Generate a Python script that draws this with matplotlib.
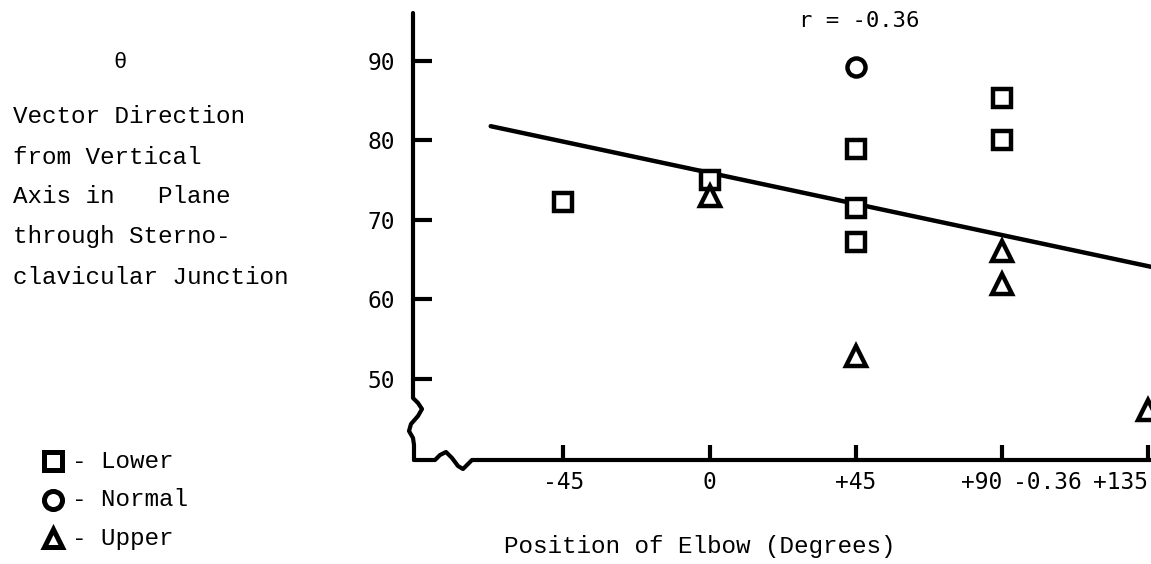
import matplotlib
matplotlib.use("Agg")
import matplotlib.pyplot as plt
from matplotlib.lines import Line2D

# -----------------------------
# Data
# -----------------------------
elbow_ticks = [-45, 0, 45, 90, 135]
elbow_labels = ["-45", "0", "+45", "+90", "+135"]
theta_ticks = [50, 60, 70, 80, 90]

lower_x = [-45, 0, 45, 45, 45, 90, 90]
lower_y = [72.3, 75.0, 78.9, 71.5, 67.2, 85.3, 80.0]

normal_x = [45]
normal_y = [89.2]

upper_x = [0, 45, 90, 90, 135]
upper_y = [73.0, 52.9, 66.1, 62.0, 46.1]

# regression line end points
fit_x = [-67.3, 135.9]
fit_y = [81.8, 64.1]
r_value = -0.36

ylabel_lines = [
    "Vector Direction",
    "from Vertical",
    "Axis in   Plane",
    "through Sterno-",
    "clavicular Junction",
]
legend_items = [("s", "- Lower"), ("o", "- Normal"), ("^", "- Upper")]

# -----------------------------
# Figure setup
# -----------------------------
W, H = 1151, 564
SERIF = ["Liberation Mono", "DejaVu Sans Mono"]
SANS = ["DejaVu Sans Mono"]

fig = plt.figure(figsize=(W / 100, H / 100), dpi=100)
ax = fig.add_axes([413 / W, (H - 460) / H, 738 / W, 447 / H])
ax.set_xlim(-91.2, 135.8)
ax.set_ylim(39.8, 96.04)
for s in ax.spines.values():
    s.set_visible(False)


def fig_pt(x, y):
    return x / W, 1 - y / H


# hand drawn axes with break marks
left_axis = [(413, 13), (413, 398), (418, 403), (422, 409), (418, 416), (411, 424),
             (409, 431), (413, 438), (414, 445), (414, 460)]
bottom_axis = [(414, 460), (435, 460), (440, 455), (446, 452), (452, 458), (458, 466),
               (463, 469), (468, 464), (472, 460), (1151, 460)]
for path in (left_axis, bottom_axis):
    pts = [fig_pt(x, y) for x, y in path]
    fig.add_artist(Line2D([p[0] for p in pts], [p[1] for p in pts], color="black",
                          lw=3, solid_joinstyle="round", solid_capstyle="round"))

# ticks
ax.set_xticks(elbow_ticks)
ax.set_xticklabels(elbow_labels, family=SANS, fontsize=16.5)
for lab in ax.get_xticklabels()[3:]:
    lab.set_ha("right")
ax.set_yticks(theta_ticks)
ax.set_yticklabels([str(v) for v in theta_ticks], family=SANS, fontsize=16.5)
ax.tick_params(axis="x", direction="in", length=11, width=3, pad=8)
ax.tick_params(axis="y", direction="in", length=14, width=3, pad=13)

# stray r value printed between +90 and +135
ax.text(104, -0.025, f"{r_value:.2f}", transform=ax.get_xaxis_transform(),
        ha="center", va="top", family=SANS, fontsize=16.5)

# -----------------------------
# Points and fit line
# -----------------------------
ax.plot(fit_x, fit_y, color="black", lw=3.2, solid_capstyle="round", zorder=2)

mk = dict(linestyle="none", color="black", markerfacecolor="white", clip_on=False, zorder=3)
ax.plot(lower_x, lower_y, marker="s", ms=12.5, mew=3.2, **mk)
ax.plot(normal_x, normal_y, marker="o", ms=13, mew=3.2, **mk)
ax.plot(upper_x, upper_y, marker="^", ms=14, mew=3.2, **mk)

ax.text(46, 95.0, f"r = {r_value:.2f}", ha="center", va="center", family=SANS, fontsize=16)

ax.set_xlabel("Position of Elbow (Degrees)", family=SERIF, fontsize=17.5, va="center")
ax.xaxis.set_label_coords((700 - 413) / 738, (460 - 546) / 447)

# -----------------------------
# Left side labels and key
# -----------------------------
fig.text(*fig_pt(120, 62), "\u03b8", ha="center", va="center", family=SERIF, fontsize=16)
for i, line in enumerate(ylabel_lines):
    fig.text(*fig_pt(13, 117 + 40 * i), line, ha="left", va="center", family=SERIF,
             fontsize=17.5)

for i, (m, lab) in enumerate(legend_items):
    y = 461 + 38.5 * i
    fx, fy = fig_pt(53, y)
    fig.add_artist(Line2D([fx], [fy], marker=m, ms=13, mew=3.6, color="black",
                          markerfacecolor="white", linestyle="none"))
    fig.text(*fig_pt(72, y), lab, ha="left", va="center", family=SERIF, fontsize=17.5)

plt.savefig("out.png", dpi=100)
plt.close()
